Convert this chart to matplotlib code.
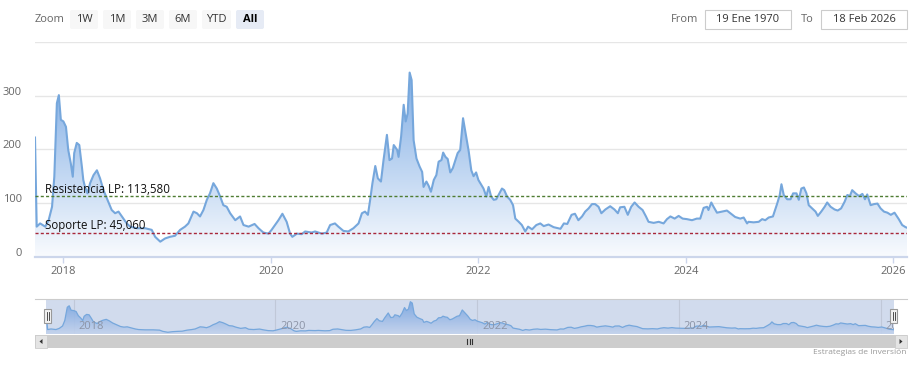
import numpy as np
import pandas as pd
import matplotlib
matplotlib.use("Agg")
import matplotlib.pyplot as plt
import matplotlib.dates as mdates
import matplotlib.transforms as mtransforms
from matplotlib.patches import Rectangle, FancyBboxPatch, Polygon
from matplotlib.colors import LinearSegmentedColormap

plt.rcParams['font.family'] = ['Open Sans', 'DejaVu Sans']

# series (weekly-ish samples)
dates = [
    "2017-09-23", "2017-09-29", "2017-10-11", "2017-10-29", "2017-11-10", "2017-11-22", "2017-11-30",
    "2017-12-09", "2017-12-16", "2017-12-23", "2018-01-01", "2018-01-10", "2018-01-18", "2018-01-27",
    "2018-02-03", "2018-02-08", "2018-02-17", "2018-02-26", "2018-03-07", "2018-03-12", "2018-03-18",
    "2018-03-27", "2018-04-05", "2018-04-17", "2018-04-29", "2018-05-10", "2018-05-22", "2018-06-05",
    "2018-06-20", "2018-07-02", "2018-07-14", "2018-07-26", "2018-08-12", "2018-08-24", "2018-09-17",
    "2018-10-16", "2018-11-08", "2018-11-20", "2018-12-08", "2018-12-25", "2019-01-11", "2019-01-29",
    "2019-02-16", "2019-03-05", "2019-03-17", "2019-04-04", "2019-04-16", "2019-04-27", "2019-05-09",
    "2019-05-21", "2019-06-01", "2019-06-13", "2019-06-25", "2019-07-07", "2019-07-18", "2019-07-30",
    "2019-08-11", "2019-08-29", "2019-09-15", "2019-09-27", "2019-10-15", "2019-11-05", "2019-11-19",
    "2019-12-06", "2019-12-24", "2020-01-04", "2020-01-16", "2020-01-28", "2020-02-11", "2020-02-26",
    "2020-03-09", "2020-03-17", "2020-04-02", "2020-04-19", "2020-05-01", "2020-05-24", "2020-06-05",
    "2020-06-29", "2020-07-16", "2020-07-28", "2020-08-14", "2020-08-26", "2020-09-13", "2020-09-30",
    "2020-10-18", "2020-11-05", "2020-11-17", "2020-11-28", "2020-12-08", "2020-12-16", "2020-12-24",
    "2021-01-03", "2021-01-12", "2021-01-23", "2021-02-01", "2021-02-13", "2021-02-22", "2021-03-03",
    "2021-03-09", "2021-03-21", "2021-03-26", "2021-04-04", "2021-04-13", "2021-04-20", "2021-04-27",
    "2021-05-04", "2021-05-11", "2021-05-18", "2021-05-28", "2021-06-08", "2021-06-17", "2021-06-22",
    "2021-07-02", "2021-07-10", "2021-07-18", "2021-07-28", "2021-08-06", "2021-08-14", "2021-08-24",
    "2021-08-30", "2021-09-07", "2021-09-15", "2021-09-24", "2021-10-03", "2021-10-12", "2021-10-20",
    "2021-10-29", "2021-11-08", "2021-11-17", "2021-11-28", "2021-12-07", "2021-12-15", "2021-12-24",
    "2022-01-01", "2022-01-11", "2022-01-19", "2022-01-29", "2022-02-06", "2022-02-15", "2022-02-24",
    "2022-03-05", "2022-03-13", "2022-03-25", "2022-04-02", "2022-04-12", "2022-04-23", "2022-05-03",
    "2022-05-11", "2022-05-23", "2022-06-03", "2022-06-15", "2022-06-25", "2022-07-09", "2022-07-24",
    "2022-08-07", "2022-08-19", "2022-09-05", "2022-09-23", "2022-10-17", "2022-10-29", "2022-11-10",
    "2022-11-25", "2022-12-07", "2022-12-19", "2023-01-01", "2023-01-12", "2023-01-24", "2023-02-05",
    "2023-02-16", "2023-02-28", "2023-03-10", "2023-03-24", "2023-04-10", "2023-04-25", "2023-05-07",
    "2023-05-15", "2023-05-30", "2023-06-11", "2023-06-23", "2023-07-05", "2023-07-19", "2023-08-02",
    "2023-08-14", "2023-08-23", "2023-09-10", "2023-09-28", "2023-10-15", "2023-10-27", "2023-11-08",
    "2023-11-23", "2023-12-07", "2023-12-21", "2024-01-05", "2024-01-23", "2024-02-09", "2024-02-21",
    "2024-03-04", "2024-03-16", "2024-03-21", "2024-03-31", "2024-04-08", "2024-04-20", "2024-05-07",
    "2024-05-25", "2024-06-06", "2024-06-23", "2024-07-11", "2024-07-23", "2024-08-04", "2024-08-09",
    "2024-08-27", "2024-09-14", "2024-09-26", "2024-10-07", "2024-10-19", "2024-11-03", "2024-11-18",
    "2024-11-27", "2024-12-03", "2024-12-11", "2024-12-23", "2025-01-04", "2025-01-13", "2025-01-25",
    "2025-02-02", "2025-02-11", "2025-02-20", "2025-03-01", "2025-03-09", "2025-03-21", "2025-04-02",
    "2025-04-10", "2025-04-22", "2025-05-04", "2025-05-13", "2025-05-25", "2025-06-08", "2025-06-19",
    "2025-07-01", "2025-07-13", "2025-07-23", "2025-08-01", "2025-08-09", "2025-08-21", "2025-09-02",
    "2025-09-14", "2025-09-23", "2025-10-01", "2025-10-13", "2025-10-25", "2025-11-06", "2025-11-17",
    "2025-11-29", "2025-12-11", "2025-12-23", "2026-01-05", "2026-01-20", "2026-02-01", "2026-02-13",
    "2026-02-18",
]
values = [
    222, 56, 62, 56, 68, 93, 149,
    286, 301, 255, 252, 242, 199, 174,
    149, 193, 212, 208, 168, 143, 130,
    118, 137, 152, 161, 146, 124, 106,
    87, 81, 84, 75, 62, 56, 53,
    53, 50, 37, 28, 34, 37, 39,
    50, 56, 62, 84, 81, 75, 87,
    106, 118, 137, 127, 112, 96, 93,
    81, 68, 75, 59, 56, 61, 53,
    45, 43, 50, 59, 68, 80, 65,
    43, 37, 43, 42, 47, 45, 47,
    43, 45, 59, 62, 56, 48, 47,
    53, 62, 81, 84, 78, 106, 137,
    169, 146, 140, 180, 227, 180, 183,
    208, 199, 186, 224, 283, 252, 267,
    343, 329, 217, 183, 168, 158, 130,
    140, 132, 121, 143, 152, 177, 180,
    194, 186, 182, 157, 165, 180, 193,
    199, 258, 230, 196, 161, 150, 157,
    143, 134, 127, 112, 130, 112, 106,
    107, 115, 127, 124, 112, 106, 96,
    71, 65, 59, 47, 56, 51, 59,
    62, 57, 60, 55, 52, 62, 61,
    78, 80, 68, 75, 84, 90, 98,
    98, 93, 81, 88, 94, 88, 81,
    92, 93, 78, 93, 101, 93, 87,
    75, 65, 63, 65, 62, 70, 75,
    71, 76, 71, 70, 68, 71, 71,
    91, 93, 87, 101, 93, 82, 84,
    86, 81, 74, 71, 73, 62, 65,
    64, 65, 70, 68, 73, 75, 99,
    115, 135, 115, 107, 107, 118, 118,
    106, 127, 129, 118, 96, 90, 84,
    76, 84, 93, 101, 93, 88, 86,
    90, 102, 115, 113, 124, 118, 113,
    117, 107, 116, 96, 98, 99, 90,
    84, 82, 78, 82, 70, 59, 55,
    54,
]

resistance = 113.580
support = 45.060
resistance_label = "Resistencia LP: 113,580"
support_label = "Soporte LP: 45,060"

y_ticks = [0, 100, 200, 300, 400]
y_tick_labels = ["0", "100", "200", "300", ""]
year_ticks = ["2018-01-01", "2020-01-01", "2022-01-01", "2024-01-01", "2026-01-01"]
year_labels = ["2018", "2020", "2022", "2024", "2026"]

zoom_buttons = ["1W", "1M", "3M", "6M", "YTD", "All"]
range_from = "19 Ene 1970"
range_to = "18 Feb 2026"
credit = "Estrategias de Inversión"

line_color = "#76a7dc"
W, H = 917, 367

x = pd.to_datetime(dates)
y = np.array(values, dtype=float)
x_num = mdates.date2num(x)
tick_num = mdates.date2num(pd.to_datetime(year_ticks))

fig = plt.figure(figsize=(W / 100, H / 100), dpi=100)


def px_box(x0, y0, x1, y1):
    # pixel box measured from top-left -> figure fraction rect
    return [x0 / W, 1 - y1 / H, (x1 - x0) / W, (y1 - y0) / H]


def gradient_area(ax, y_lo, y_hi, c_bot, c_top, alpha=1.0):
    poly = ax.fill_between(x, y, y_lo, color="none", lw=0)
    cmap = LinearSegmentedColormap.from_list("area", [c_bot, c_top])
    grad = np.linspace(0, 1, 256).reshape(-1, 1)
    im = ax.imshow(grad, aspect="auto", cmap=cmap, origin="lower", alpha=alpha,
                   extent=[x_num[0], x_num[-1], y_lo, y_hi], zorder=1, interpolation="bilinear")
    im.set_clip_path(poly.get_paths()[0], transform=ax.transData)


# ---- main chart
ax = fig.add_axes(px_box(35, 42, 907, 256.7))
gradient_area(ax, 0, 400, "#f9fbfe", "#6a9fe0")
ax.plot(x, y, color=line_color, lw=1.5, zorder=3, solid_joinstyle="round")

ax.axhline(resistance, color="#4f7d33", lw=1.0, dashes=(2.2, 1.6), zorder=4)
ax.axhline(support, color="#a8273a", lw=1.0, dashes=(2.2, 1.6), zorder=4)
blend = mtransforms.blended_transform_factory(ax.transAxes, ax.transData)
ax.annotate(resistance_label, xy=(0, resistance), xycoords=blend, xytext=(7.2, 2.2),
            textcoords="offset points", fontsize=8.3, color="#111111", va="baseline", zorder=5)
ax.annotate(support_label, xy=(0, support), xycoords=blend, xytext=(7.2, 2.2),
            textcoords="offset points", fontsize=8.3, color="#111111", va="baseline", zorder=5)

ax.set_xlim(x_num[0], x_num[-1])
ax.set_ylim(0, 400)
ax.set_yticks(y_ticks, y_tick_labels)
ax.set_xticks(tick_num, year_labels)
ax.grid(axis="y", color="#e6e6e6", lw=1.0)
ax.set_axisbelow(True)
for s in ["left", "right", "top"]:
    ax.spines[s].set_visible(False)
ax.spines["bottom"].set_color("#ccd6eb")
ax.spines["bottom"].set_linewidth(1.6)
ax.tick_params(axis="y", length=0, pad=9.5, labelsize=8, labelcolor="#666666")
ax.tick_params(axis="x", length=4, width=1, color="#ccd6eb", pad=3, labelsize=8, labelcolor="#666666")
shift = mtransforms.ScaledTranslation(0, 5 / 100, fig.dpi_scale_trans)
for lab in ax.get_yticklabels():
    lab.set_transform(lab.get_transform() + shift)

# ---- navigator
nav = fig.add_axes(px_box(46, 299, 894, 334))
nav.set_facecolor("#d1dbed")
gradient_area(nav, 10, 371, "#c4d3ec", "#6f9fe0", alpha=0.9)
nav.plot(x, y, color=line_color, lw=0.9, zorder=3)
nav.set_xlim(x_num[0], x_num[-1])
nav.set_ylim(10, 371)
nav_blend = mtransforms.blended_transform_factory(nav.transData, nav.transAxes)
for t, lab in zip(tick_num, year_labels):
    nav.axvline(t, color="#c0c8d8", lw=0.8, zorder=0.5)
    nav.text(t + 18, 0.22, lab, transform=nav_blend,
             fontsize=8, color="#8c94a6", ha="left", va="center", clip_on=True, zorder=4)
nav.set_xticks([])
nav.set_yticks([])
for s in nav.spines.values():
    s.set_visible(False)

# ---- overlay for toolbar, scrollbar, handles
ov = fig.add_axes([0, 0, 1, 1])
ov.set_xlim(0, W)
ov.set_ylim(H, 0)
ov.axis("off")

ov.text(35, 19.5, "Zoom", fontsize=8, color="#666666", va="center", ha="left")
btn_x = [70, 103, 136, 169, 202, 236]
btn_w = [28, 28, 28, 28, 29, 28]
for bx, bw, lab in zip(btn_x, btn_w, zoom_buttons):
    sel = lab == "All"
    ov.add_patch(FancyBboxPatch((bx, 10), bw, 19, boxstyle="round,pad=0,rounding_size=2",
                                fc="#e6ebf5" if sel else "#f7f7f7", ec="none"))
    ov.text(bx + bw / 2, 19.5, lab, fontsize=8, color="#000000" if sel else "#333333",
            fontweight="bold" if sel else "normal", ha="center", va="center")

ov.text(671, 19.5, "From", fontsize=8, color="#666666", va="center", ha="left")
ov.add_patch(Rectangle((705, 10), 86, 19, fc="white", ec="#cccccc", lw=0.8))
ov.text(748, 19.5, range_from, fontsize=8, color="#333333", va="center", ha="center")
ov.text(801, 19.5, "To", fontsize=8, color="#666666", va="center", ha="left")
ov.add_patch(Rectangle((821, 10), 86, 19, fc="white", ec="#cccccc", lw=0.8))
ov.text(864, 19.5, range_to, fontsize=8, color="#333333", va="center", ha="center")

# navigator outline
ov.plot([35, 907], [299, 299], color="#cccccc", lw=0.8)

# scrollbar
ov.add_patch(Rectangle((35, 335), 872, 13, fc="#cdcdcd", ec="none"))
ov.add_patch(Rectangle((35, 335), 12, 13, fc="#e4e4e4", ec="#cccccc", lw=0.6))
ov.add_patch(Rectangle((895, 335), 12, 13, fc="#e4e4e4", ec="#cccccc", lw=0.6))
ov.add_patch(Polygon([[39.5, 341.5], [42.5, 339], [42.5, 344]], closed=True, fc="#333333", ec="none"))
ov.add_patch(Polygon([[902.5, 341.5], [899.5, 339], [899.5, 344]], closed=True, fc="#333333", ec="none"))
for gx in [467, 469.5, 472]:
    ov.plot([gx, gx], [339, 344], color="#333333", lw=0.8)

# navigator handles
for hx in [44, 890]:
    ov.add_patch(Rectangle((hx, 309), 7, 14, fc="#f2f2f2", ec="#999999", lw=0.8, zorder=5))
    for gx in [hx + 2.5, hx + 4.5]:
        ov.plot([gx, gx], [312, 320], color="#333333", lw=0.6, zorder=6)

ov.text(906, 353, credit, fontsize=6, color="#999999", ha="right", va="center")

fig.savefig("out.png", dpi=100)
